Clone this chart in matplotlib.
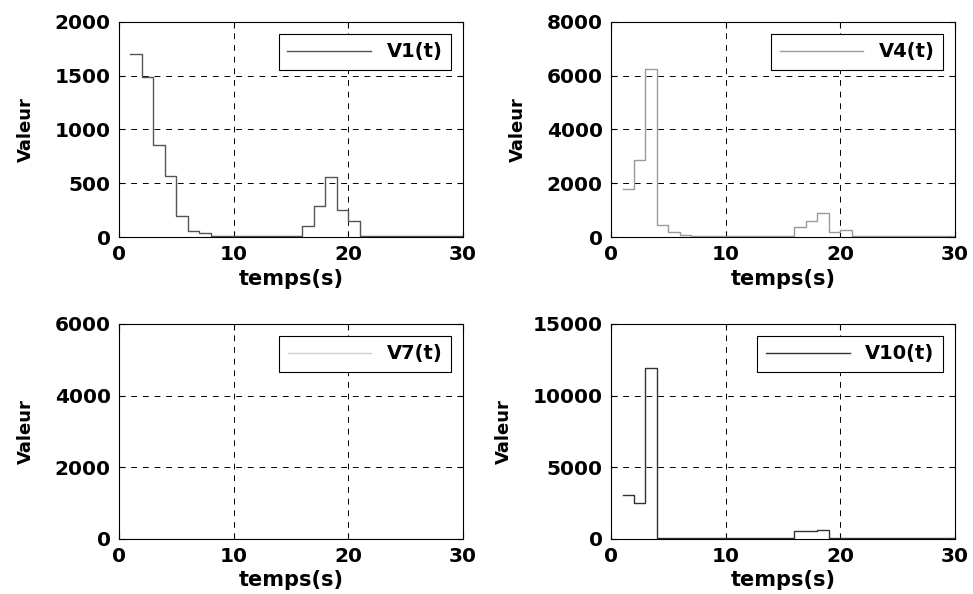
import numpy as np
import matplotlib
matplotlib.use("Agg")
import matplotlib.pyplot as plt

plt.rcParams['font.family'] = ['DejaVu Sans']
plt.rcParams['font.weight'] = 'bold'

# time steps (s)
t = np.arange(1, 31)

v1 = [1700, 1490, 860, 570, 200, 60, 35, 10, 5, 5,
      5, 5, 5, 5, 5, 100, 290, 560, 250, 150,
      5, 5, 5, 5, 5, 5, 5, 5, 5, 5]
v4 = [1800, 2850, 6250, 450, 170, 70, 20, 20, 20, 20,
      20, 20, 20, 20, 20, 380, 580, 880, 200, 250,
      30, 30, 30, 30, 30, 30, 30, 30, 30, 30]
v7 = [5, 5, 5, 5, 5, 5, 5, 5, 5, 5,
      5, 5, 5, 5, 5, 5, 5, 5, 5, 5,
      5, 5, 5, 5, 5, 5, 5, 5, 5, 5]
v10 = [3050, 2500, 11900, 90, 90, 90, 90, 40, 40, 40,
       40, 40, 40, 40, 40, 550, 560, 650, 100, 60,
       100, 40, 40, 40, 40, 40, 40, 40, 40, 40]

series = [
    ("V1(t)", v1, (0, 2000), [0, 500, 1000, 1500, 2000], "#555555"),
    ("V4(t)", v4, (0, 8000), [0, 2000, 4000, 6000, 8000], "#9a9a9a"),
    ("V7(t)", v7, (0, 6000), [0, 2000, 4000, 6000], "#d0d0d0"),
    ("V10(t)", v10, (0, 15000), [0, 5000, 10000, 15000], "#333333"),
]

positions = [
    [0.1223, 0.601, 0.3535, 0.362],
    [0.628, 0.601, 0.3535, 0.362],
    [0.1223, 0.0926, 0.3535, 0.362],
    [0.628, 0.0926, 0.3535, 0.362],
]

fig = plt.figure(figsize=(9.73, 5.94), dpi=100)

for (label, vals, ylim, yticks, col), pos in zip(series, positions):
    ax = fig.add_axes(pos)
    ax.step(t, vals, where='post', color=col, lw=1.0, label=label)
    ax.set_xlim(0, 30)
    ax.set_ylim(*ylim)
    ax.set_xticks([0, 10, 20, 30])
    ax.set_yticks(yticks)
    ax.grid(True, color='black', linestyle=(0, (6, 6)), linewidth=0.7)
    ax.tick_params(direction='in', labelsize=14.5, length=4, width=0.8,
                   top=True, right=True)
    ax.tick_params(axis='x', pad=6)
    ax.tick_params(axis='y', pad=6)
    for lbl in ax.get_xticklabels() + ax.get_yticklabels():
        lbl.set_fontweight('bold')
    for s in ax.spines.values():
        s.set_linewidth(0.8)
    ax.set_xlabel("temps(s)", fontsize=15, fontweight='bold', labelpad=3)
    ax.set_ylabel("Valeur", fontsize=13, fontweight='bold', labelpad=14)
    leg = ax.legend(loc='upper right', fontsize=14, handlelength=4.3,
                    fancybox=False, framealpha=1, edgecolor='black',
                    borderaxespad=0.6, borderpad=0.45)
    leg.get_frame().set_linewidth(0.8)
    for txt in leg.get_texts():
        txt.set_fontweight('bold')

fig.savefig("out.png", dpi=100)
